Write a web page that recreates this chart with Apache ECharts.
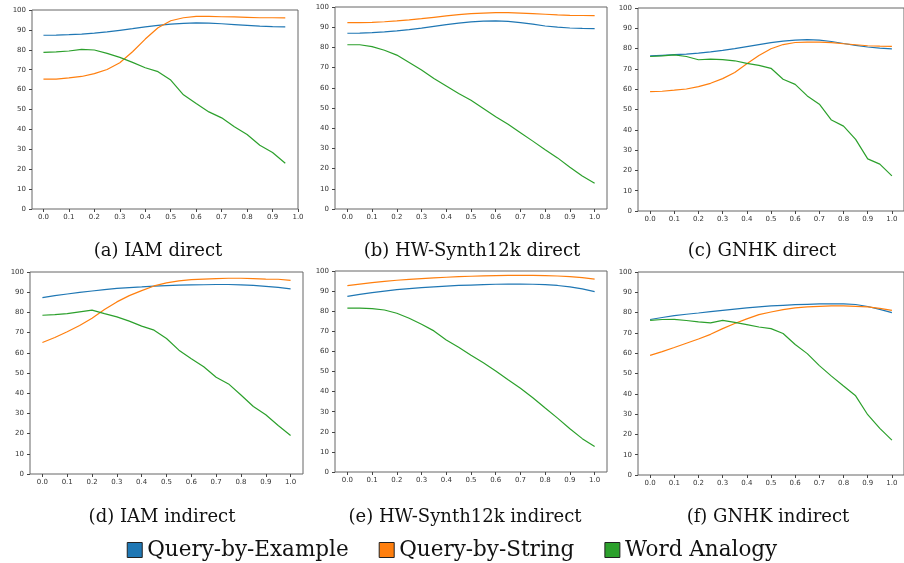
<!DOCTYPE html>
<html>
<head>
<meta charset="utf-8">
<script src="https://cdn.jsdelivr.net/npm/echarts@6/dist/echarts.min.js"></script>
<style>
  html, body { margin: 0; padding: 0; background: #fff; }
  #chart { width: 904px; height: 563px; }
</style>
</head>
<body>
<div id="chart"></div>
<script>
// x positions (IAM direct stops at 0.95)
const xsFull = [0, 0.05, 0.1, 0.15, 0.2, 0.25, 0.3, 0.35, 0.4, 0.45, 0.5, 0.55, 0.6, 0.65, 0.7, 0.75, 0.8, 0.85, 0.9, 0.95, 1.0];
const xsShort = [0, 0.05, 0.1, 0.15, 0.2, 0.25, 0.3, 0.35, 0.4, 0.45, 0.5, 0.55, 0.6, 0.65, 0.7, 0.75, 0.8, 0.85, 0.9, 0.95];
const xTicks = [0, 0.1, 0.2, 0.3, 0.4, 0.5, 0.6, 0.7, 0.8, 0.9, 1.0];

const seriesNames = ['Query-by-Example', 'Query-by-String', 'Word Analogy'];
const colors = ['#1f77b4', '#ff7f0e', '#2ca02c'];
const captions = ['(a) IAM direct', '(b) HW-Synth12k direct', '(c) GNHK direct',
                  '(d) IAM indirect', '(e) HW-Synth12k indirect', '(f) GNHK indirect'];

// (a) IAM direct
const qbeIamDirect = [87.3, 87.4, 87.6, 87.9, 88.4, 89.0, 89.8, 90.6, 91.5, 92.3, 92.9, 93.3, 93.5, 93.4, 93.1, 92.7, 92.3, 91.9, 91.6, 91.5];
const qbsIamDirect = [65.3, 65.3, 65.9, 66.6, 68.0, 70.1, 73.5, 79.0, 85.4, 91.1, 94.6, 96.1, 96.8, 96.8, 96.6, 96.5, 96.3, 96.1, 96.1, 96.0];
const waIamDirect  = [78.7, 79.0, 79.4, 80.2, 79.9, 78.2, 76.2, 73.7, 71.0, 69.0, 64.8, 57.4, 53.0, 48.8, 45.8, 41.3, 37.4, 32.0, 28.4, 23.0];

// (b) HW-Synth12k direct
const qbeHwDirect = [87.0, 87.1, 87.3, 87.7, 88.2, 88.8, 89.5, 90.4, 91.3, 92.0, 92.6, 93.0, 93.1, 92.9, 92.3, 91.5, 90.6, 90.0, 89.6, 89.4, 89.3];
const qbsHwDirect = [92.3, 92.3, 92.4, 92.7, 93.1, 93.6, 94.2, 94.9, 95.6, 96.2, 96.7, 97.0, 97.2, 97.2, 97.0, 96.7, 96.4, 96.1, 95.9, 95.8, 95.7];
const waHwDirect  = [81.3, 81.3, 80.4, 78.6, 76.2, 72.5, 68.8, 64.6, 60.9, 57.2, 53.8, 49.8, 45.7, 41.9, 37.8, 33.6, 29.3, 25.3, 20.7, 16.3, 12.7];

// (c) GNHK direct
const qbeGnhkDirect = [76.4, 76.7, 77.0, 77.3, 77.8, 78.4, 79.1, 80.0, 81.0, 82.0, 82.9, 83.7, 84.2, 84.4, 84.2, 83.5, 82.5, 81.6, 80.8, 80.2, 79.9];
const qbsGnhkDirect = [58.8, 59.0, 59.5, 60.1, 61.3, 62.9, 65.2, 68.2, 72.5, 76.6, 79.9, 82.0, 83.0, 83.2, 83.2, 82.9, 82.4, 81.9, 81.4, 81.2, 81.1];
const waGnhkDirect  = [76.1, 76.4, 76.9, 76.1, 74.5, 74.8, 74.6, 74.0, 72.7, 71.7, 70.3, 64.9, 62.4, 56.7, 52.6, 44.8, 41.8, 35.3, 25.7, 23.1, 17.3];

// (d) IAM indirect
const qbeIamIndirect = [87.3, 88.3, 89.1, 89.9, 90.6, 91.3, 91.9, 92.3, 92.6, 93.0, 93.3, 93.5, 93.6, 93.7, 93.8, 93.8, 93.6, 93.4, 92.9, 92.4, 91.6];
const qbsIamIndirect = [65.1, 67.6, 70.4, 73.5, 77.1, 81.4, 85.2, 88.3, 90.8, 93.1, 94.6, 95.6, 96.2, 96.5, 96.7, 96.9, 96.9, 96.7, 96.5, 96.4, 95.9];
const waIamIndirect  = [78.6, 78.9, 79.4, 80.3, 81.1, 79.4, 77.8, 75.7, 73.2, 71.2, 67.1, 61.3, 57.1, 53.1, 47.9, 44.6, 39.1, 33.4, 29.3, 24.0, 19.1];

// (e) HW-Synth12k indirect
const qbeHwIndirect = [87.4, 88.4, 89.2, 90.0, 90.7, 91.2, 91.7, 92.1, 92.5, 92.8, 93.0, 93.2, 93.4, 93.5, 93.5, 93.4, 93.2, 92.8, 92.1, 91.1, 89.7];
const qbsHwIndirect = [92.7, 93.5, 94.2, 94.8, 95.4, 95.8, 96.2, 96.6, 96.9, 97.2, 97.4, 97.6, 97.7, 97.8, 97.8, 97.8, 97.7, 97.5, 97.2, 96.7, 96.0];
const waHwIndirect  = [81.5, 81.5, 81.3, 80.6, 79.0, 76.5, 73.5, 70.2, 65.7, 62.1, 58.1, 54.3, 50.3, 45.9, 41.7, 36.9, 31.8, 26.8, 21.5, 16.6, 12.7];

// (f) GNHK indirect
const qbeGnhkIndirect = [76.6, 77.6, 78.5, 79.2, 79.8, 80.5, 81.1, 81.7, 82.3, 82.8, 83.3, 83.6, 83.9, 84.1, 84.3, 84.3, 84.3, 84.0, 83.0, 81.6, 80.0];
const qbsGnhkIndirect = [58.9, 60.8, 62.8, 64.9, 67.0, 69.3, 72.1, 74.6, 76.9, 79.0, 80.3, 81.5, 82.3, 82.8, 83.1, 83.3, 83.3, 83.1, 82.8, 82.1, 81.1];
const waGnhkIndirect  = [76.2, 76.6, 76.7, 76.1, 75.4, 74.9, 76.2, 75.2, 74.1, 72.9, 72.1, 69.7, 64.3, 59.8, 53.9, 48.7, 43.8, 39.0, 29.7, 23.0, 17.2];

const panels = [
    { xs: xsShort, lines: [qbeIamDirect, qbsIamDirect, waIamDirect], xMin: -0.045, xMax: 1.0 },
    { xs: xsFull, lines: [qbeHwDirect, qbsHwDirect, waHwDirect], xMin: -0.05, xMax: 1.05 },
    { xs: xsFull, lines: [qbeGnhkDirect, qbsGnhkDirect, waGnhkDirect], xMin: -0.05, xMax: 1.05 },
    { xs: xsFull, lines: [qbeIamIndirect, qbsIamIndirect, waIamIndirect], xMin: -0.05, xMax: 1.05 },
    { xs: xsFull, lines: [qbeHwIndirect, qbsHwIndirect, waHwIndirect], xMin: -0.05, xMax: 1.05 },
    { xs: xsFull, lines: [qbeGnhkIndirect, qbsGnhkIndirect, waGnhkIndirect], xMin: -0.05, xMax: 1.05 }
];

// plot boxes, matching the subfigure layout
const boxes = [
    { left: 32, top: 10, width: 266, height: 199 },
    { left: 335, top: 7, width: 272, height: 202 },
    { left: 638, top: 8, width: 273, height: 203 },
    { left: 30, top: 272, width: 273, height: 202 },
    { left: 335, top: 271, width: 272, height: 201 },
    { left: 638, top: 272, width: 273, height: 203 }
];
const captionPos = [[153, 237], [467, 237], [757, 237], [157, 503], [460, 503], [763, 503]];

const tickFont = { fontFamily: 'DejaVu Sans', fontSize: 7, color: '#333' };

let chart = echarts.init(document.getElementById('chart'), null, { renderer: 'canvas' });

let grid = boxes.map(b => Object.assign({
    show: true,
    borderColor: '#666',
    borderWidth: 1,
    containLabel: false
}, b));

let xAxis = panels.map((p, i) => ({
    type: 'value',
    gridIndex: i,
    min: p.xMin,
    max: p.xMax,
    splitLine: { show: false },
    axisLine: { show: false, onZero: false },
    axisTick: { show: true, length: 3, lineStyle: { color: '#444' }, customValues: xTicks },
    axisLabel: Object.assign({
        margin: 5,
        customValues: xTicks,
        showMinLabel: true,
        showMaxLabel: true,
        formatter: v => v.toFixed(1)
    }, tickFont)
}));

let yAxis = panels.map((p, i) => ({
    type: 'value',
    gridIndex: i,
    min: 0,
    max: 100,
    interval: 10,
    splitLine: { show: false },
    axisLine: { show: false, onZero: false },
    axisTick: { show: true, length: 3, lineStyle: { color: '#444' } },
    axisLabel: Object.assign({ margin: 6 }, tickFont)
}));

let series = [];
panels.forEach((p, i) => {
    p.lines.forEach((vals, k) => {
        series.push({
            name: seriesNames[k],
            type: 'line',
            xAxisIndex: i,
            yAxisIndex: i,
            showSymbol: false,
            symbol: 'none',
            color: colors[k],
            lineStyle: { width: 1.2, color: colors[k] },
            animation: false,
            data: vals.map((v, j) => [p.xs[j], v])
        });
    });
});

let title = captions.map((c, i) => ({
    text: c,
    left: captionPos[i][0],
    top: captionPos[i][1],
    textAlign: 'center',
    textStyle: { fontFamily: 'DejaVu Serif', fontSize: 18, fontWeight: 'normal', color: '#111' }
}));

let option = {
    backgroundColor: '#fff',
    animation: false,
    title: title,
    grid: grid,
    xAxis: xAxis,
    yAxis: yAxis,
    legend: {
        data: seriesNames,
        left: 'center',
        top: 534,
        icon: 'rect',
        itemWidth: 15,
        itemHeight: 15,
        itemGap: 30,
        itemStyle: { borderColor: '#222', borderWidth: 1 },
        textStyle: { fontFamily: 'DejaVu Serif', fontSize: 21.5, color: '#111' }
    },
    series: series
};

option && chart.setOption(option);
</script>
</body>
</html>
